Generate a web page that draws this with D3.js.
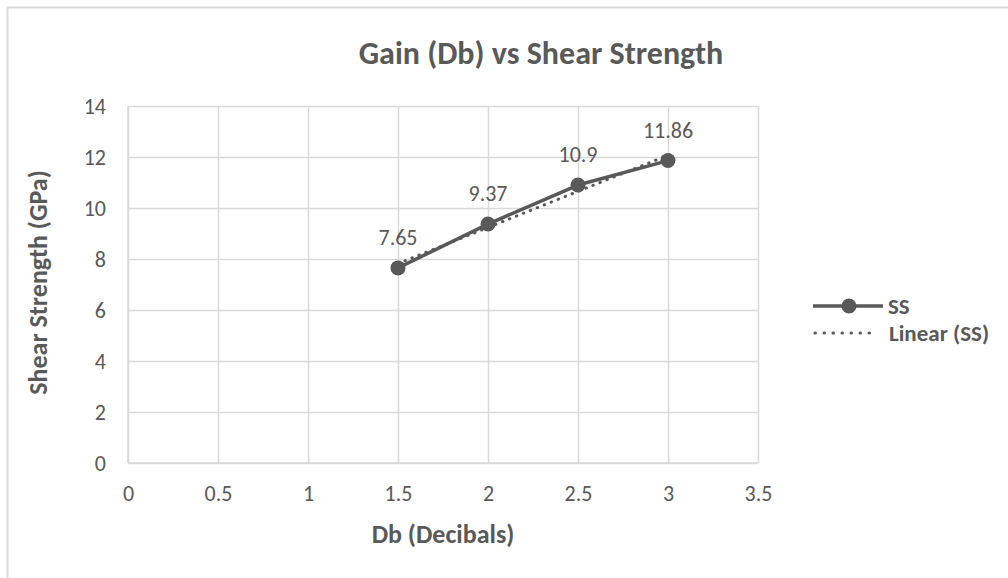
<!DOCTYPE html>
<html>
<head>
<meta charset="utf-8">
<script src="https://cdn.jsdelivr.net/npm/d3@7"></script>
<style>
  html, body { margin: 0; padding: 0; background: #fff; }
  svg { display: block; }
  text { font-family: Carlito, Calibri, Lato, "Open Sans", sans-serif; fill: #595959; }
</style>
</head>
<body>
<svg id="chart" width="1008" height="578"></svg>
<script>
// Gain in decibels against measured shear strength
const gainDb = [1.5, 2, 2.5, 3];
const shearStrength = [7.65, 9.37, 10.9, 11.86];
const xTicks = [0, 0.5, 1, 1.5, 2, 2.5, 3, 3.5];
const yTicks = [0, 2, 4, 6, 8, 10, 12, 14];

const title = "Gain (Db) vs Shear Strength";
const xTitle = "Db (Decibals)";
const yTitle = "Shear Strength (GPa)";
const seriesName = "SS";
const trendName = "Linear (SS)";

const ink = "#595959";
const grid = "#d9d9d9";
const fontStack = "Carlito, Calibri, Lato, 'Open Sans', sans-serif";

const svg = d3.select("#chart");

// outer chart frame
svg.append("rect")
  .attr("x", 7.5).attr("y", 7.5)
  .attr("width", 1010).attr("height", 580)
  .attr("fill", "none").attr("stroke", grid).attr("stroke-width", 2);

const plot = { left: 128, right: 758, top: 106, bottom: 463 };

const x = d3.scaleLinear().domain([0, 3.5]).range([plot.left, plot.right]);
const y = d3.scaleLinear().domain([0, 14]).range([plot.bottom, plot.top]);

// gridlines
svg.append("g")
  .attr("transform", `translate(0,${plot.bottom})`)
  .call(d3.axisBottom(x).tickValues(xTicks).tickSize(-(plot.bottom - plot.top)).tickFormat(""))
  .call(g => g.select(".domain").remove())
  .call(g => g.selectAll("line").attr("stroke", grid).attr("stroke-width", 1.5));

svg.append("g")
  .attr("transform", `translate(${plot.left},0)`)
  .call(d3.axisLeft(y).tickValues(yTicks).tickSize(-(plot.right - plot.left)).tickFormat(""))
  .call(g => g.select(".domain").remove())
  .call(g => g.selectAll("line").attr("stroke", grid).attr("stroke-width", 1.5));

// axis lines
svg.append("line")
  .attr("x1", plot.left).attr("x2", plot.left)
  .attr("y1", plot.top).attr("y2", plot.bottom)
  .attr("stroke", grid).attr("stroke-width", 1.5);
svg.append("line")
  .attr("x1", plot.left).attr("x2", plot.right)
  .attr("y1", plot.bottom).attr("y2", plot.bottom)
  .attr("stroke", grid).attr("stroke-width", 1.5);

// tick labels
svg.append("g")
  .attr("transform", `translate(0,${plot.bottom})`)
  .call(d3.axisBottom(x).tickValues(xTicks).tickSize(0).tickPadding(22).tickFormat(d3.format("")))
  .call(g => g.select(".domain").remove())
  .call(g => g.selectAll("text").attr("font-size", 22).attr("fill", ink)
    .style("font-family", fontStack));

svg.append("g")
  .attr("transform", `translate(${plot.left},0)`)
  .call(d3.axisLeft(y).tickValues(yTicks).tickSize(0).tickPadding(22).tickFormat(d3.format("")))
  .call(g => g.select(".domain").remove())
  .call(g => g.selectAll("text").attr("font-size", 22).attr("fill", ink)
    .style("font-family", fontStack));

// titles
svg.append("text")
  .attr("x", 541).attr("y", 64)
  .attr("text-anchor", "middle")
  .attr("font-size", 32).attr("font-weight", "bold")
  .text(title);

svg.append("text")
  .attr("x", (plot.left + plot.right) / 2).attr("y", 543)
  .attr("text-anchor", "middle")
  .attr("font-size", 26).attr("font-weight", "bold")
  .text(xTitle);

svg.append("text")
  .attr("transform", `translate(47,${(plot.top + plot.bottom) / 2 - 2}) rotate(-90)`)
  .attr("text-anchor", "middle")
  .attr("font-size", 26).attr("font-weight", "bold")
  .text(yTitle);

// least-squares linear trendline
const n = gainDb.length;
const mx = d3.mean(gainDb), my = d3.mean(shearStrength);
const slope = d3.sum(gainDb, (d, i) => (d - mx) * (shearStrength[i] - my)) /
              d3.sum(gainDb, d => (d - mx) * (d - mx));
const intercept = my - slope * mx;
const trendX = [gainDb[0], gainDb[n - 1]];

const points = gainDb.map((d, i) => ({ x: d, y: shearStrength[i] }));

svg.append("path")
  .datum(points)
  .attr("fill", "none")
  .attr("stroke", ink)
  .attr("stroke-width", 3.5)
  .attr("stroke-linejoin", "round")
  .attr("d", d3.line().x(d => x(d.x)).y(d => y(d.y)));

svg.append("path")
  .datum(trendX)
  .attr("fill", "none")
  .attr("stroke", ink)
  .attr("stroke-width", 3)
  .attr("stroke-linecap", "round")
  .attr("stroke-dasharray", "0.5,7")
  .attr("d", d3.line().x(d => x(d)).y(d => y(slope * d + intercept)));

svg.selectAll("circle.pt")
  .data(points)
  .join("circle")
  .attr("class", "pt")
  .attr("cx", d => x(d.x)).attr("cy", d => y(d.y))
  .attr("r", 7.5)
  .attr("fill", ink);

// data labels
svg.selectAll("text.lbl")
  .data(points)
  .join("text")
  .attr("class", "lbl")
  .attr("x", d => x(d.x)).attr("y", d => y(d.y) - 23)
  .attr("text-anchor", "middle")
  .attr("font-size", 22)
  .text(d => d3.format("")(d.y));

// legend
const lg = svg.append("g");
lg.append("line")
  .attr("x1", 813).attr("x2", 883).attr("y1", 306).attr("y2", 306)
  .attr("stroke", ink).attr("stroke-width", 3.5);
lg.append("circle").attr("cx", 849).attr("cy", 306).attr("r", 7.5).attr("fill", ink);
lg.append("text").attr("x", 888).attr("y", 314)
  .attr("font-size", 23).attr("font-weight", "bold").text(seriesName);

lg.append("line")
  .attr("x1", 815).attr("x2", 878).attr("y1", 333).attr("y2", 333)
  .attr("stroke", ink).attr("stroke-width", 3)
  .attr("stroke-linecap", "round").attr("stroke-dasharray", "0.5,8.5");
lg.append("text").attr("x", 889).attr("y", 341)
  .attr("font-size", 23).attr("font-weight", "bold").text(trendName);
</script>
</body>
</html>
